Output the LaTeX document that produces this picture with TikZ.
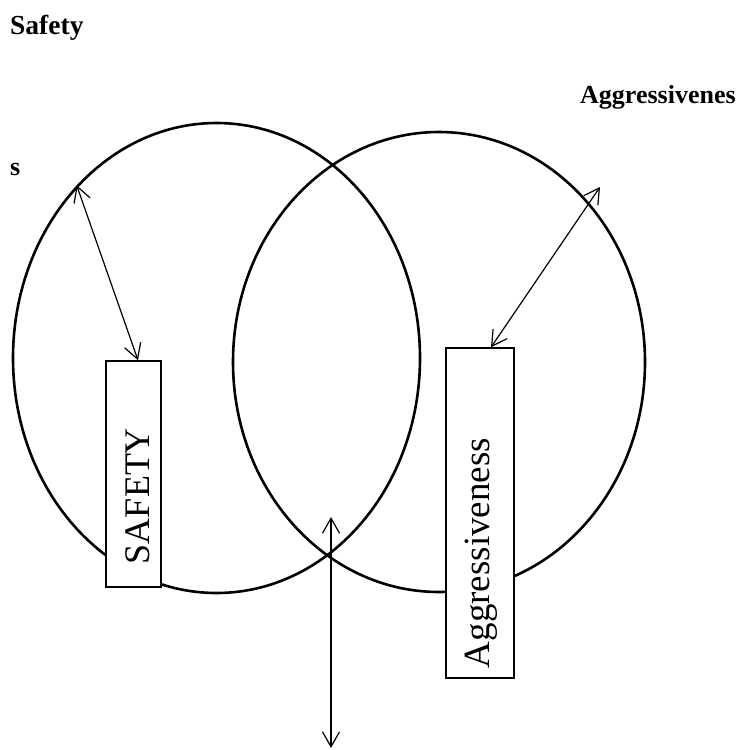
\documentclass[tikz,border=0pt]{standalone}
\usepackage{fontspec}
\setmainfont{Liberation Serif}
\usepackage{tikz}
\usetikzlibrary{shapes,arrows,positioning,calc,arrows.meta}

\begin{document}
\begin{tikzpicture}[x=1pt,y=-1pt,
        ring/.style={ellipse,draw,line width=2.6pt,inner sep=0pt},
        barbox/.style={draw,fill=white,line width=1.5pt,inner sep=0pt},
        boxtext/.style={rotate=90,inner sep=0pt},
        heading/.style={anchor=base west,inner sep=0pt,font=\fontsize{26}{30}\selectfont\bfseries},
        link/.style={>={Straight Barb[length=15pt,width=17pt]},<->,line width=1.2pt}]
        \useasboundingbox (0,0) rectangle (740,750);

        % the two overlapping rings
        \node[ring,minimum width=407pt,minimum height=470pt] (safetyring) at (216.5,358) {};
        \node[ring,minimum width=412pt,minimum height=460pt] (aggring) at (439,362) {};

        % headings
        \node[heading,font=\fontsize{27.5}{32}\selectfont\bfseries] (safetytitle) at (10,34) {Safety};
        \node[heading] (aggtitle) at (580,103) {Aggressivenes};
        \node[heading] (aggtail) at (10,175) {s};

        % the upright bars
        \node[barbox,minimum width=55pt,minimum height=226pt] (safetybox) at (133.5,474) {};
        \node[boxtext,font=\fontsize{36}{40}\selectfont] (safetylabel) at (137.5,496) {SAFETY};

        \node[barbox,minimum width=68pt,minimum height=330pt] (aggbox) at (480,513) {};
        \node[boxtext,font=\fontsize{37}{42}\selectfont] (agglabel) at (481,553) {Aggressiveness};

        % double arrows
        \coordinate (aggtip) at (600,187);
        \coordinate (overlaptop) at (331,517);
        \coordinate (overlapbottom) at (331,748);

        \draw[link] ([xshift=4.5pt]safetybox.north) -- (safetyring.129);
        \draw[link] ([xshift=11pt]aggbox.north) -- (aggtip);
        \draw[link] (overlaptop) -- (overlapbottom);
    \end{tikzpicture}
\end{document}
